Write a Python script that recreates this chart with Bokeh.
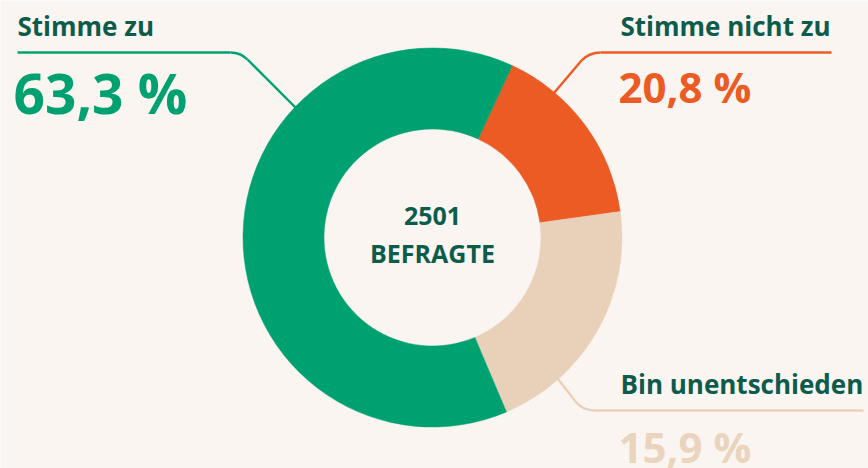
import math
from bokeh.plotting import figure
from bokeh.models import Range1d
from bokeh.core.properties import value
from bokeh.embed import file_html
from bokeh.resources import INLINE

# ---- data ----
categories = ["Stimme zu", "Stimme nicht zu", "Bin unentschieden"]
label_values = ["63,3 %", "20,8 %", "15,9 %"]
# arc shares as drawn in the picture (clockwise: orange, beige, green)
slice_order = ["Stimme nicht zu", "Bin unentschieden", "Stimme zu"]
slice_values = [15.9, 20.8, 63.3]
slice_colors = ["#EC5B24", "#E9D1B9", "#00A171"]
center_lines = ["2501", "BEFRAGTE"]

W, H = 868, 468
BG = "#FAF5F1"
DARK = "#0C5B4B"
GREEN = "#00A171"
ORANGE = "#EC5B24"
BEIGE = "#E9D1B9"

def Y(py):
    return H - py

p = figure(width=W, height=H, x_range=Range1d(0, W), y_range=Range1d(0, H),
           toolbar_location=None, output_backend="svg", min_border=0,
           x_axis_type=None, y_axis_type=None)
p.grid.visible = False
p.outline_line_color = None
p.background_fill_color = BG
p.border_fill_color = BG

cx, cy = 432, 237
R_out, R_in = 189.5, 108.5
start_clock = 24.9

# ---- leader lines (drawn first, donut covers their ends) ----
lw = 2.4
# green
p.line([17, 230], [Y(52), Y(52)], line_color=GREEN, line_width=lw)
p.quadratic(x0=[230], y0=[Y(52)], x1=[247], y1=[Y(59)], cx=[240], cy=[Y(52)],
            line_color=GREEN, line_width=lw)
p.line([247, 300], [Y(59), Y(112)], line_color=GREEN, line_width=lw)
# orange
p.line([831, 600], [Y(52), Y(52)], line_color=ORANGE, line_width=lw)
p.quadratic(x0=[600], y0=[Y(52)], x1=[581], y1=[Y(60)], cx=[589], cy=[Y(52)],
            line_color=ORANGE, line_width=lw)
p.line([581, 548], [Y(60), Y(99)], line_color=ORANGE, line_width=lw)
# beige
p.line([550, 575], [Y(369), Y(401)], line_color=BEIGE, line_width=lw)
p.quadratic(x0=[575], y0=[Y(401)], x1=[594], y1=[Y(410)], cx=[582], cy=[Y(410)],
            line_color=BEIGE, line_width=lw)
p.line([594, 863], [Y(410), Y(410)], line_color=BEIGE, line_width=lw)

# ---- donut ----
total = sum(slice_values)
starts, ends = [], []
c = start_clock
for v in slice_values:
    c1 = c + v / total * 360.0
    starts.append(math.radians(90 - c1))
    ends.append(math.radians(90 - c))
    c = c1
p.annular_wedge(x=[cx] * 3, y=[Y(cy)] * 3, inner_radius=R_in, outer_radius=R_out,
                start_angle=starts, end_angle=ends, fill_color=slice_colors,
                line_color=slice_colors, line_width=0.5)

# ---- texts ----
font = value("Open Sans")

def txt(x, baseline, s, size, color, align="left"):
    # empirical correction of the renderer's baseline placement
    y = baseline - 0.38 * size
    p.text(x=[x], y=[Y(y)], text=[s], text_font=font, text_font_size=f"{size}px",
           text_font_style="bold", text_color=color, text_align=align,
           text_baseline="alphabetic")

txt(17, 35, categories[0], 26, DARK)
txt(13, 113, label_values[0], 55, GREEN)
txt(620, 35, categories[1], 26, DARK)
txt(618, 102, label_values[1], 42, ORANGE)
txt(620, 393, categories[2], 26, DARK)
txt(618, 462, label_values[2], 42, "#EBD4BD")
txt(432, 225, center_lines[0], 25, DARK, "center")
txt(432, 262, center_lines[1], 25, DARK, "center")

open("out.html", "w").write(file_html(p, INLINE))
